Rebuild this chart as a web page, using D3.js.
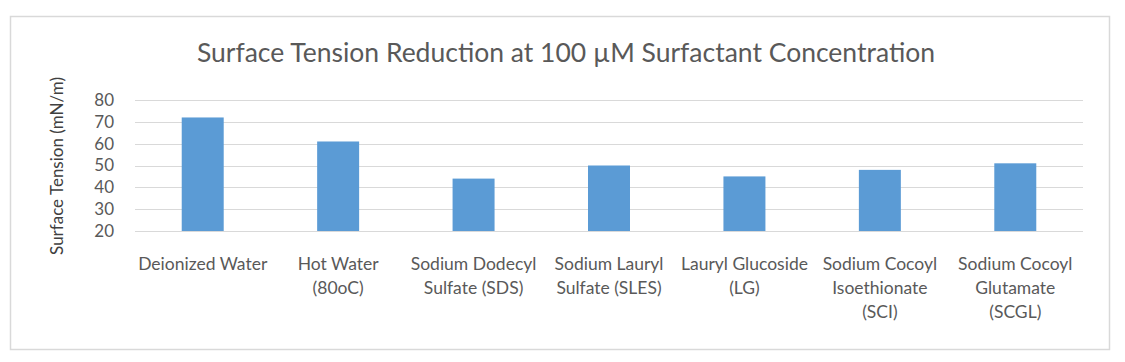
<!DOCTYPE html>
<html>
<head>
<meta charset="utf-8">
<script src="https://cdn.jsdelivr.net/npm/d3@7"></script>
<style>
  body { margin: 0; background: #fff; }
  text { font-family: Lato, "Open Sans", sans-serif; fill: #595959; }
</style>
</head>
<body>
<div id="chart"></div>
<script>
'use strict';

const title = "Surface Tension Reduction at 100 \u00b5M Surfactant Concentration";
const yLabel = "Surface Tension (mN/m)";
const categories = [
    "Deionized Water",
    "Hot Water\n(80oC)",
    "Sodium Dodecyl\nSulfate (SDS)",
    "Sodium Lauryl\nSulfate (SLES)",
    "Lauryl Glucoside\n(LG)",
    "Sodium Cocoyl\nIsoethionate\n(SCI)",
    "Sodium Cocoyl\nGlutamate\n(SCGL)"
];
const values = [72, 61, 44, 50, 45, 48, 51];
const yTicks = [20, 30, 40, 50, 60, 70, 80];

var W = 1125, H = 362;
var margin = { top: 100, right: 42, bottom: 131, left: 135 },
    width = W - margin.left - margin.right,
    height = H - margin.top - margin.bottom;

var svg = d3.select("#chart").append("svg")
    .attr("width", W)
    .attr("height", H);

// outer frame
svg.append("rect")
    .attr("x", 10.5).attr("y", 16.5)
    .attr("width", 1099).attr("height", 333)
    .style("fill", "#fff")
    .style("stroke", "#d9d9d9")
    .style("stroke-width", "1.5px");

svg.append("text")
    .attr("x", 566).attr("y", 62)
    .attr("text-anchor", "middle")
    .style("font-size", "26.5px")
    .text(title);

var g = svg.append("g")
    .attr("transform", "translate(" + margin.left + "," + margin.top + ")");

var x = d3.scaleBand()
    .domain(categories)
    .range([0, width])
    .paddingInner(0.69)
    .paddingOuter(0.345);

var y = d3.scaleLinear()
    .domain([20, 80])
    .range([height, 0]);

// gridlines
g.append("g")
    .selectAll("line")
    .data(yTicks)
    .join("line")
    .attr("x1", 0).attr("x2", width)
    .attr("y1", d => Math.round(y(d)) + 0.5)
    .attr("y2", d => Math.round(y(d)) + 0.5)
    .style("stroke", "#d9d9d9")
    .style("stroke-width", "1px");

var yAxis = d3.axisLeft(y)
    .tickValues(yTicks)
    .tickSize(0)
    .tickPadding(21);

g.append("g")
    .call(yAxis)
    .call(s => s.select(".domain").remove())
    .selectAll("text")
    .style("font-size", "17px")
    .style("fill", "#595959");

g.selectAll("rect.bar")
    .data(values)
    .join("rect")
    .attr("class", "bar")
    .attr("x", (d, i) => x(categories[i]))
    .attr("width", x.bandwidth())
    .attr("y", d => y(d))
    .attr("height", d => y(20) - y(d))
    .style("fill", "#5b9bd5");

// category labels
var xAxis = d3.axisBottom(x).tickSize(0).tickFormat("");
var xg = g.append("g")
    .attr("transform", "translate(0," + height + ")")
    .call(xAxis);
xg.select(".domain").remove();

xg.selectAll(".tick")
    .append("text")
    .attr("text-anchor", "middle")
    .style("font-size", "17.5px")
    .each(function (d) {
        d3.select(this).selectAll("tspan")
            .data(d.split("\n"))
            .join("tspan")
            .attr("x", 0)
            .attr("y", (l, i) => 39 + i * 24)
            .text(l => l);
    });

svg.append("text")
    .attr("transform", "translate(63,166) rotate(-90)")
    .attr("text-anchor", "middle")
    .style("font-size", "17px")
    .style("fill", "#404040")
    .text(yLabel);
</script>
</body>
</html>
